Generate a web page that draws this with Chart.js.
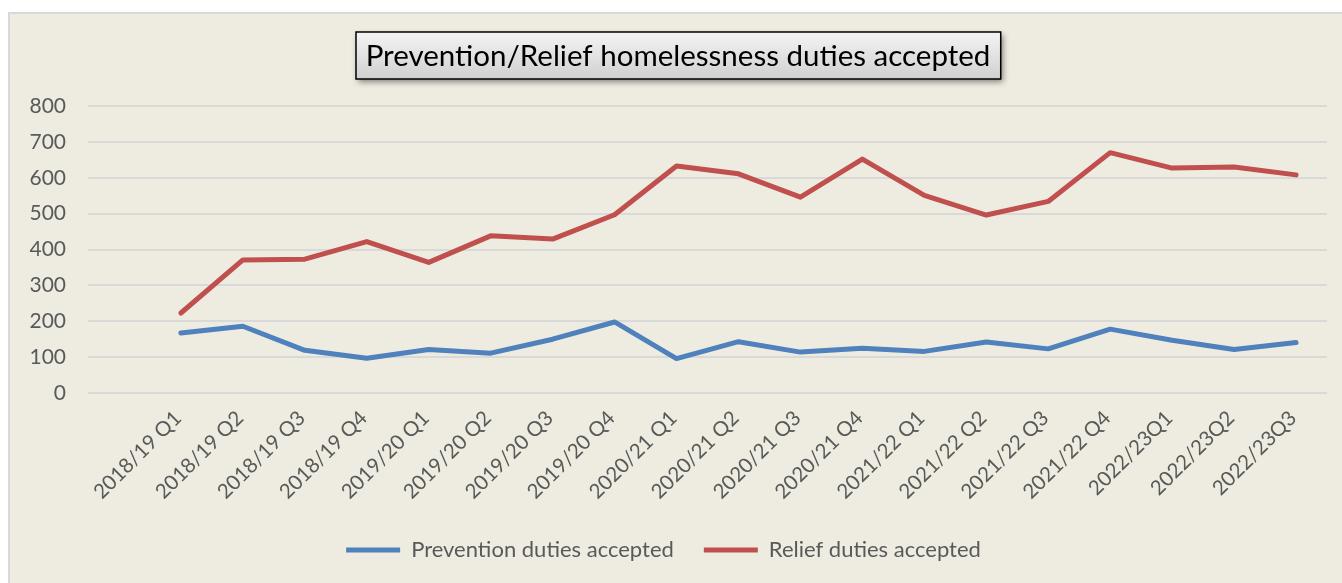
<!DOCTYPE html>
<html>
<head>
<meta charset="utf-8">
<script src="https://cdn.jsdelivr.net/npm/chart.js@4"></script>
<style>
  html, body { margin: 0; padding: 0; background: #ffffff; }
  #wrap { position: absolute; left: 0; top: 0; width: 1342px; height: 583px; }
</style>
</head>
<body>
<div id="wrap"><canvas id="chart"></canvas></div>
<script>
// leading blank category leaves the gap Excel shows before the first quarter
var quarters = ['', '2018/19 Q1', '2018/19 Q2', '2018/19 Q3', '2018/19 Q4',
    '2019/20 Q1', '2019/20 Q2', '2019/20 Q3', '2019/20 Q4',
    '2020/21 Q1', '2020/21 Q2', '2020/21 Q3', '2020/21 Q4',
    '2021/22 Q1', '2021/22 Q2', '2021/22 Q3', '2021/22 Q4',
    '2022/23Q1', '2022/23Q2', '2022/23Q3'];
var prevention = [null, 167, 186, 119, 97, 121, 111, 150, 198, 96, 143, 114, 125, 116, 142, 123, 178, 147, 121, 141];
var relief = [null, 223, 371, 373, 422, 364, 438, 429, 497, 633, 611, 546, 652, 551, 496, 534, 670, 627, 630, 608];
var yTicks = [0, 100, 200, 300, 400, 500, 600, 700, 800];

var titleText = 'Prevention/Relief homelessness duties accepted';
var fontFamily = 'Lato, "Open Sans", sans-serif';
var textGray = '#595959';

var framePlugin = {
    id: 'frame',
    beforeDraw: function(chart) {
        var ctx = chart.ctx;
        ctx.save();
        ctx.fillStyle = '#ffffff';
        ctx.fillRect(0, 0, chart.width, chart.height);
        ctx.fillStyle = '#EEECE1';
        ctx.fillRect(9, 13, chart.width - 9, chart.height - 13);
        ctx.strokeStyle = '#D9D9D9';
        ctx.lineWidth = 2;
        ctx.beginPath();
        ctx.moveTo(9, chart.height);
        ctx.lineTo(9, 13);
        ctx.lineTo(chart.width, 13);
        ctx.stroke();
        ctx.restore();
    }
};

var boxedTitle = {
    id: 'boxedTitle',
    afterDraw: function(chart) {
        var ctx = chart.ctx;
        ctx.save();
        ctx.font = '29.5px ' + fontFamily;
        var w = ctx.measureText(titleText).width + 20;
        var h = 47;
        var cx = 678;
        var x = Math.round(cx - w / 2), y = 32;
        ctx.shadowColor = 'rgba(0,0,0,0.45)';
        ctx.shadowBlur = 6;
        ctx.shadowOffsetX = 2;
        ctx.shadowOffsetY = 3;
        var g = ctx.createLinearGradient(0, y, 0, y + h);
        g.addColorStop(0, '#F4F4F4');
        g.addColorStop(1, '#D0D0D0');
        ctx.fillStyle = g;
        ctx.fillRect(x, y, w, h);
        ctx.shadowColor = 'transparent';
        ctx.strokeStyle = '#000000';
        ctx.lineWidth = 1.5;
        ctx.strokeRect(x, y, w, h);
        ctx.fillStyle = '#000000';
        ctx.textAlign = 'center';
        ctx.textBaseline = 'middle';
        ctx.fillText(titleText, cx, y + h / 2 + 1);
        ctx.restore();
    }
};

var ctx = document.getElementById('chart').getContext('2d');
new Chart(ctx, {
    type: 'line',
    data: {
        labels: quarters,
        datasets: [{
            label: 'Prevention duties accepted',
            data: prevention,
            borderColor: '#4F81BD',
            backgroundColor: '#4F81BD',
            borderWidth: 5,
            pointRadius: 0,
            borderCapStyle: 'round',
            borderJoinStyle: 'round',
            tension: 0
        }, {
            label: 'Relief duties accepted',
            data: relief,
            borderColor: '#C0504D',
            backgroundColor: '#C0504D',
            borderWidth: 5,
            pointRadius: 0,
            borderCapStyle: 'round',
            borderJoinStyle: 'round',
            tension: 0
        }]
    },
    options: {
        responsive: true,
        maintainAspectRatio: false,
        animation: false,
        layout: {
            padding: { top: 106, right: 15, bottom: 12, left: 0 }
        },
        scales: {
            x: {
                offset: true,
                grid: { display: false },
                border: { display: false },
                ticks: {
                    autoSkip: false,
                    maxRotation: 45,
                    minRotation: 45,
                    padding: 5,
                    labelOffset: -3,
                    color: textGray,
                    font: { family: fontFamily, size: 20.5 }
                },
                afterFit: function(scale) { scale.height = 116; }
            },
            y: {
                min: 0,
                max: 800,
                afterBuildTicks: function(scale) {
                    scale.ticks = yTicks.map(function(v) { return { value: v }; });
                },
                grid: { color: '#D9D9D9', lineWidth: 2, drawTicks: false },
                border: { display: false },
                ticks: {
                    padding: 22,
                    color: textGray,
                    font: { family: fontFamily, size: 21 }
                },
                afterFit: function(scale) { scale.width = 88; }
            }
        },
        plugins: {
            title: { display: false },
            tooltip: { enabled: false },
            legend: {
                position: 'bottom',
                labels: {
                    usePointStyle: true,
                    pointStyle: 'line',
                    pointStyleWidth: 54,
                    boxWidth: 54,
                    padding: 30,
                    color: textGray,
                    font: { family: fontFamily, size: 22 }
                }
            }
        }
    },
    plugins: [framePlugin, boxedTitle]
});
</script>
</body>
</html>
